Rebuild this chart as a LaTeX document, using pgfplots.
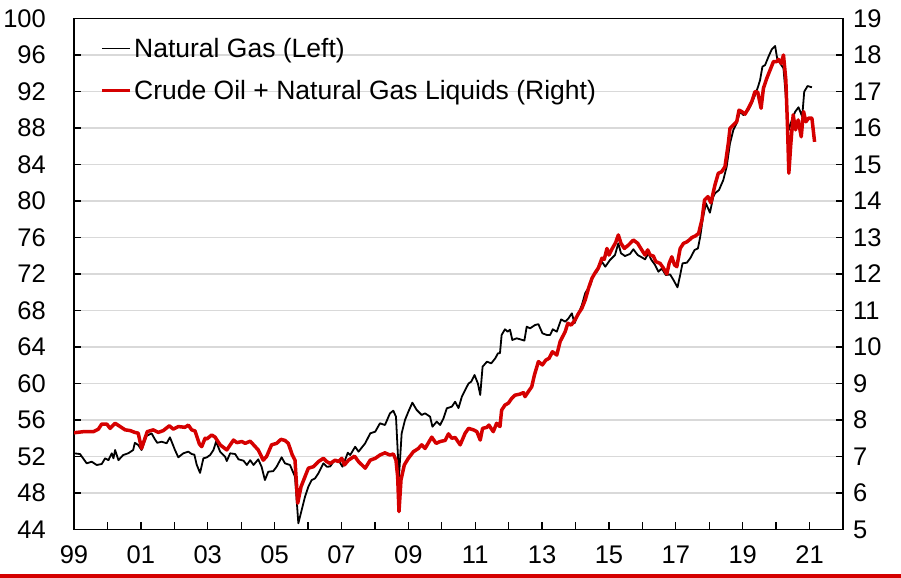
\documentclass[border=0pt]{standalone}
\usepackage{fontspec}
\setmainfont{Liberation Sans}
\usepackage{pgfplots}
\usepackage{pgfplotstable}
\pgfplotsset{compat=1.18}
\definecolor{oilred}{RGB}{213,0,0}
\definecolor{gridgray}{RGB}{217,217,217}

\pgfplotstableread{
x y
1999.00 52.35
1999.18 52.27
1999.38 51.25
1999.53 51.43
1999.68 51.07
1999.83 51.18
1999.93 51.8
2000.03 51.6
2000.13 52.35
2000.18 51.8
2000.23 52.71
2000.33 51.6
2000.47 52.16
2000.62 52.35
2000.77 52.71
2000.82 53.5
2000.92 53.26
2001.02 52.71
2001.17 54.25
2001.32 54.54
2001.42 53.88
2001.49 53.5
2001.62 53.62
2001.77 53.45
2001.87 54.1
2002.02 52.71
2002.12 51.91
2002.27 52.35
2002.42 52.53
2002.52 52.27
2002.60 52.2
2002.67 51.1
2002.77 50.2
2002.87 51.8
2002.97 51.9
2003.07 52.16
2003.17 52.71
2003.25 53.62
2003.37 52.53
2003.52 51.98
2003.57 51.5
2003.67 52.35
2003.82 52.27
2003.92 51.69
2004.07 51.54
2004.17 51.07
2004.27 51.6
2004.37 51.07
2004.51 51.69
2004.61 50.88
2004.71 49.42
2004.81 50.33
2004.96 50.4
2005.06 50.88
2005.21 51.91
2005.31 51.25
2005.46 51.07
2005.61 49.79
2005.71 44.68
2005.81 46.14
2005.91 47.6
2006.01 48.7
2006.11 49.42
2006.21 49.6
2006.31 50.16
2006.46 51.25
2006.56 50.88
2006.66 50.9
2006.76 51.43
2006.91 51.6
2007.03 50.88
2007.19 52.42
2007.26 52.16
2007.41 53.07
2007.51 52.53
2007.71 53.45
2007.86 54.54
2008.01 54.72
2008.15 55.64
2008.30 55.45
2008.45 56.73
2008.55 57.02
2008.63 56.36
2008.72 49.79
2008.80 54.54
2008.90 56.0
2009.00 56.91
2009.12 57.9
2009.25 57.1
2009.40 56.55
2009.50 56.73
2009.65 56.36
2009.72 55.27
2009.85 55.82
2009.95 55.45
2010.05 56.18
2010.15 57.28
2010.30 57.46
2010.40 58.0
2010.50 57.3
2010.60 58.55
2010.70 59.29
2010.80 60.0
2010.88 60.2
2010.98 60.93
2011.08 60.0
2011.15 58.74
2011.22 61.84
2011.35 62.39
2011.48 62.21
2011.60 62.76
2011.68 63.31
2011.74 63.31
2011.79 65.32
2011.89 65.94
2011.97 65.68
2012.04 65.9
2012.11 64.77
2012.24 64.95
2012.34 64.85
2012.47 64.7
2012.54 66.23
2012.64 66.05
2012.79 66.41
2012.89 66.5
2013.01 65.5
2013.14 65.32
2013.24 65.32
2013.32 65.94
2013.44 65.68
2013.57 67.03
2013.69 66.78
2013.79 67.14
2013.89 67.69
2013.97 66.6
2014.09 67.69
2014.19 68.6
2014.29 69.9
2014.44 70.79
2014.54 71.89
2014.64 72.25
2014.79 73.35
2014.89 72.8
2015.03 73.53
2015.18 74.08
2015.28 75.36
2015.36 74.27
2015.48 73.97
2015.63 74.2
2015.73 74.71
2015.86 74.08
2015.98 73.83
2016.08 73.61
2016.18 74.27
2016.26 73.6
2016.38 72.99
2016.48 72.25
2016.58 72.6
2016.70 71.89
2016.83 71.95
2016.93 71.34
2017.05 70.54
2017.13 71.89
2017.20 73.17
2017.33 73.24
2017.43 73.72
2017.56 74.63
2017.66 74.8
2017.73 76.09
2017.80 77.92
2017.90 79.75
2018.02 78.72
2018.12 80.47
2018.17 80.84
2018.29 81.2
2018.42 82.3
2018.52 83.76
2018.62 86.32
2018.72 87.78
2018.82 88.52
2018.92 89.79
2019.02 89.42
2019.17 89.97
2019.27 90.71
2019.37 91.62
2019.46 92.53
2019.52 93.26
2019.59 94.72
2019.67 94.9
2019.77 95.81
2019.87 96.62
2019.97 96.99
2020.03 95.64
2020.12 95.09
2020.22 94.54
2020.29 91.43
2020.38 87.78
2020.47 88.88
2020.57 89.79
2020.67 90.27
2020.78 89.24
2020.84 91.98
2020.94 92.6
2021.07 92.46
}\gasdata

\pgfplotstableread{
x y
1999.00 7.65
1999.28 7.68
1999.58 7.68
1999.73 7.75
1999.83 7.89
1999.98 7.89
2000.08 7.77
2000.23 7.91
2000.38 7.82
2000.53 7.73
2000.68 7.71
2000.82 7.66
2000.92 7.64
2001.02 7.22
2001.19 7.68
2001.37 7.73
2001.52 7.66
2001.67 7.71
2001.85 7.84
2001.97 7.75
2002.12 7.82
2002.32 7.80
2002.42 7.86
2002.52 7.73
2002.62 7.70
2002.75 7.34
2002.82 7.27
2002.92 7.50
2002.97 7.48
2003.12 7.59
2003.22 7.53
2003.37 7.32
2003.57 7.18
2003.77 7.45
2003.87 7.38
2004.02 7.41
2004.12 7.36
2004.27 7.42
2004.42 7.27
2004.51 7.18
2004.66 6.90
2004.76 7.00
2004.91 7.32
2005.06 7.36
2005.19 7.47
2005.31 7.44
2005.41 7.36
2005.53 7.04
2005.61 6.90
2005.69 5.72
2005.79 6.17
2005.91 6.45
2006.01 6.68
2006.16 6.72
2006.31 6.86
2006.46 6.95
2006.56 6.86
2006.66 6.81
2006.81 6.90
2006.91 6.86
2007.01 6.95
2007.09 6.77
2007.21 6.90
2007.39 7.01
2007.51 6.86
2007.71 6.68
2007.86 6.90
2008.01 6.95
2008.15 7.04
2008.30 7.10
2008.45 7.04
2008.55 7.07
2008.63 6.90
2008.68 6.45
2008.72 5.49
2008.78 6.36
2008.88 6.77
2009.00 6.95
2009.15 7.13
2009.30 7.22
2009.40 7.32
2009.50 7.22
2009.70 7.53
2009.83 7.36
2009.95 7.41
2010.10 7.44
2010.20 7.62
2010.30 7.50
2010.40 7.52
2010.55 7.32
2010.70 7.64
2010.80 7.77
2010.95 7.73
2011.05 7.68
2011.15 7.45
2011.22 7.77
2011.35 7.80
2011.41 7.86
2011.54 7.68
2011.64 7.91
2011.74 7.82
2011.79 8.27
2011.89 8.41
2011.99 8.46
2012.09 8.59
2012.19 8.68
2012.34 8.71
2012.44 8.75
2012.49 8.64
2012.59 8.78
2012.69 8.91
2012.77 9.23
2012.89 9.60
2013.01 9.51
2013.11 9.64
2013.21 9.69
2013.31 9.87
2013.44 9.78
2013.54 10.15
2013.69 10.42
2013.77 10.65
2013.87 10.60
2013.97 10.72
2014.09 10.92
2014.19 11.06
2014.29 11.29
2014.39 11.61
2014.49 11.88
2014.59 12.04
2014.68 12.16
2014.79 12.43
2014.86 12.40
2014.94 12.70
2015.00 12.52
2015.10 12.70
2015.20 12.86
2015.28 13.07
2015.36 12.84
2015.46 12.70
2015.58 12.79
2015.73 12.93
2015.86 12.84
2015.98 12.66
2016.08 12.52
2016.16 12.66
2016.23 12.52
2016.33 12.49
2016.40 12.34
2016.53 12.29
2016.63 12.16
2016.73 12.00
2016.80 12.29
2016.88 12.47
2016.96 12.25
2017.03 12.20
2017.13 12.70
2017.23 12.84
2017.33 12.88
2017.40 12.93
2017.48 13.00
2017.58 13.04
2017.68 13.11
2017.78 13.48
2017.86 14.03
2017.96 14.12
2018.05 13.95
2018.17 14.44
2018.27 14.76
2018.37 14.80
2018.47 14.94
2018.57 15.58
2018.62 15.99
2018.72 16.08
2018.82 16.17
2018.89 16.49
2018.97 16.45
2019.07 16.38
2019.17 16.54
2019.27 16.72
2019.37 17.00
2019.45 16.98
2019.55 16.54
2019.62 17.09
2019.72 17.36
2019.82 17.59
2019.92 17.82
2020.02 17.82
2020.07 17.88
2020.15 17.77
2020.22 18.00
2020.29 17.32
2020.34 16.04
2020.38 14.76
2020.44 15.58
2020.51 16.36
2020.58 15.95
2020.66 16.22
2020.75 15.76
2020.82 16.45
2020.89 16.17
2020.97 16.27
2021.07 16.27
2021.15 15.62
}\oildata

\pgfplotsset{
  commonstyle/.style={
    at={(74bp,48.5bp)}, anchor=south west,
    scale only axis, width=769bp, height=511bp,
    xmin=1999, xmax=2022,
    tick align=inside, major tick length=7bp,
    axis line style={line width=1.3bp, black},
    tick style={line width=1.3bp, black},
    font=\fontsize{25.5bp}{30bp}\selectfont,
    /pgf/number format/assume math mode=true,
  }
}

\begin{document}
\begin{tikzpicture}
\path[use as bounding box] (0,0) rectangle (901bp,578bp);
\fill[oilred] (0,0) rectangle (901bp,3.5bp);
\begin{axis}[
  commonstyle,
  ymin=44, ymax=100,
  xtick={1999,2000,...,2021},
  xticklabels={99,,01,,03,,05,,07,,09,,11,,13,,15,,17,,19,,21},
  ytick={44,48,...,100},
  xtick pos=bottom, ytick pos=left,
  ymajorgrids, grid style={gridgray, line width=1.3bp},
  yticklabel style={inner sep=0pt, anchor=east, xshift=-28bp},
  xticklabel style={inner sep=0pt, anchor=north, yshift=-16bp},
]
\addplot[black, line width=1.8bp, line join=round] table {\gasdata};
\end{axis}
\begin{axis}[
  commonstyle,
  ymin=5, ymax=19,
  axis x line=none, axis y line*=right,
  ytick={5,6,...,19}, ytick pos=right,
  yticklabel style={inner sep=0pt, anchor=west, xshift=10bp},
  legend cell align=left,
  legend style={at={(axis description cs:0,1)}, anchor=north west,
    xshift=26bp, yshift=-19.5bp, draw=none, fill=none,
    font=\fontsize{26.5bp}{30bp}\selectfont, inner sep=0pt,
    row sep=21.5bp, column sep=2.5bp, nodes={inner sep=0pt}},
  legend image code/.code={\draw[#1] (0bp,0bp) -- (28bp,0bp);},
]
\addlegendimage{black, line width=1.8bp}
\addlegendentry{Natural Gas (Left)}
\addplot[oilred, line width=3.5bp, line join=round] table {\oildata};
\addlegendentry{Crude Oil + Natural Gas Liquids (Right)}
\end{axis}
\end{tikzpicture}
\end{document}
